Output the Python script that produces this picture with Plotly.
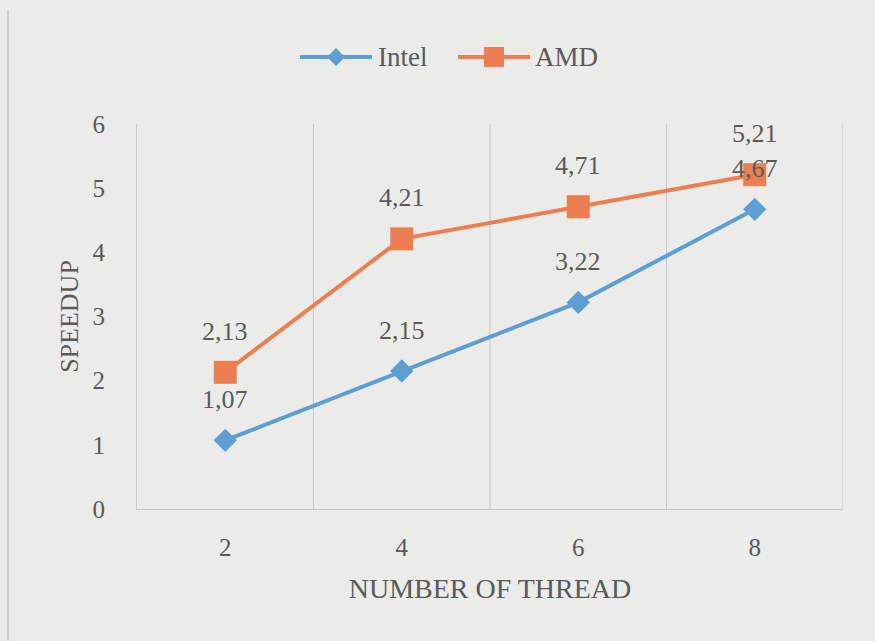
import plotly.graph_objects as go

threads = ["2", "4", "6", "8"]
intel = [1.07, 2.15, 3.22, 4.67]
amd = [2.13, 4.21, 4.71, 5.21]
y_ticks = [0, 1, 2, 3, 4, 5, 6]

INTEL_COLOR = "#5d9fd2"
AMD_COLOR = "#ec7f52"
TEXT_COLOR = "#5a5a5a"
GRID_COLOR = "#c9c9c9"
BG = "#ebebe9"
FONT = "Times New Roman, Liberation Serif, serif"

W, H = 875, 641
ML, MR, MT, MB = 137, 32, 124, 132
PW, PH = W - ML - MR, H - MT - MB


def px_x(p):
    return (p - ML) / PW


def px_y(p):
    return (H - MB - p) / PH


fig = go.Figure()
fig.add_trace(go.Scatter(
    x=list(range(len(threads))), y=intel, name="Intel", mode="lines+markers",
    line=dict(color=INTEL_COLOR, width=4),
    marker=dict(symbol="diamond", size=18, color=INTEL_COLOR),
    showlegend=False,
))
fig.add_trace(go.Scatter(
    x=list(range(len(threads))), y=amd, name="AMD", mode="lines+markers",
    line=dict(color=AMD_COLOR, width=4),
    marker=dict(symbol="square", size=23, color=AMD_COLOR),
    showlegend=False,
))

# value labels with comma decimal separator, placed above each point
for series in (intel, amd):
    for i, v in enumerate(series):
        fig.add_annotation(
            x=i, y=v, text=f"{v:.2f}".replace(".", ","), showarrow=False,
            yshift=41, font=dict(family=FONT, size=26, color=TEXT_COLOR),
        )

# vertical separators between categories
for b in [0.5, 1.5, 2.5, 3.5]:
    fig.add_shape(type="line", xref="x", yref="y", x0=b, x1=b, y0=0, y1=6,
                  line=dict(color=GRID_COLOR, width=1), layer="below")

# thin frame line at the left page edge
fig.add_shape(type="line", xref="paper", yref="paper", x0=px_x(8), x1=px_x(8),
              y0=px_y(641), y1=px_y(10), line=dict(color="#b5b5b5", width=1))

# legend with long sample lines, drawn in pixel-based paper coordinates
LEG_Y = 57
legend_items = [("Intel", INTEL_COLOR, "diamond", 300, 372, 376),
                ("AMD", AMD_COLOR, "square", 458, 530, 533)]
for name, color, sym, x0, x1, tx in legend_items:
    fig.add_shape(type="line", xref="paper", yref="paper",
                  x0=px_x(x0), x1=px_x(x1), y0=px_y(LEG_Y), y1=px_y(LEG_Y),
                  line=dict(color=color, width=4))
    cx = (x0 + x1) / 2
    if sym == "diamond":
        r = 9
        path = (f"M {px_x(cx - r)},{px_y(LEG_Y)} L {px_x(cx)},{px_y(LEG_Y - r)} "
                f"L {px_x(cx + r)},{px_y(LEG_Y)} L {px_x(cx)},{px_y(LEG_Y + r)} Z")
        fig.add_shape(type="path", xref="paper", yref="paper", path=path,
                      fillcolor=color, line=dict(width=0))
    else:
        r = 10
        fig.add_shape(type="rect", xref="paper", yref="paper",
                      x0=px_x(cx - r), x1=px_x(cx + r),
                      y0=px_y(LEG_Y + r), y1=px_y(LEG_Y - r),
                      fillcolor=color, line=dict(width=0))
    fig.add_annotation(xref="paper", yref="paper", x=px_x(tx), y=px_y(LEG_Y),
                       xanchor="left", yanchor="middle", text=name, showarrow=False,
                       font=dict(family=FONT, size=27, color=TEXT_COLOR))

fig.update_layout(
    width=W, height=H,
    paper_bgcolor=BG, plot_bgcolor=BG,
    margin=dict(l=ML, r=MR, t=MT, b=MB),
    font=dict(family=FONT, size=25, color=TEXT_COLOR),
    showlegend=False,
    xaxis=dict(
        tickvals=list(range(len(threads))), ticktext=threads,
        range=[-0.5, 3.5], showgrid=False, zeroline=False,
        showline=True, linecolor=GRID_COLOR, linewidth=1,
        ticks="", ticklabelstandoff=16,
        tickfont=dict(family=FONT, size=25, color=TEXT_COLOR),
        title=dict(text="NUMBER OF THREAD", standoff=18,
                   font=dict(family=FONT, size=28, color=TEXT_COLOR)),
    ),
    yaxis=dict(
        range=[0, 6], tickvals=y_ticks, showgrid=False, zeroline=False,
        showline=True, linecolor=GRID_COLOR, linewidth=1,
        ticks="", ticklabelstandoff=26,
        tickfont=dict(family=FONT, size=25, color=TEXT_COLOR),
        title=dict(text="SPEEDUP", standoff=6,
                   font=dict(family=FONT, size=26, color=TEXT_COLOR)),
    ),
)

fig.write_html("out.html")
